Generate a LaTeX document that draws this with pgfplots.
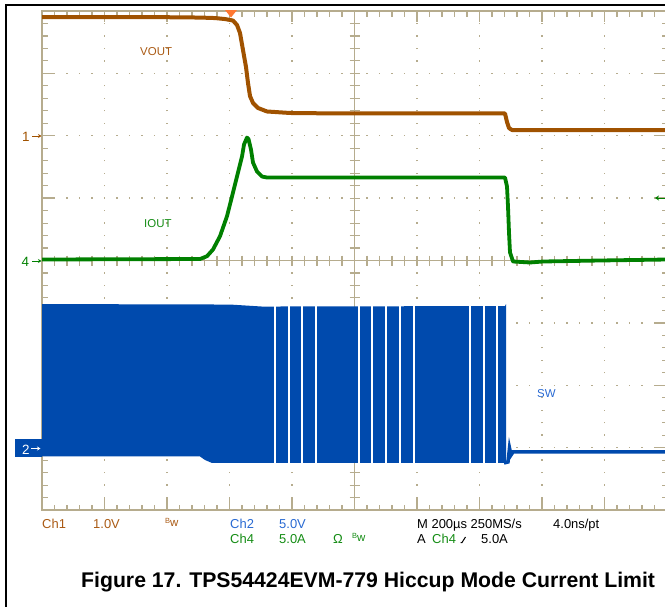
\documentclass[border=0pt]{standalone}
\usepackage{pgfplots}
\pgfplotsset{compat=1.18}
\usepackage{fontspec}
\setmainfont{Liberation Sans}
\usetikzlibrary{arrows.meta}
\definecolor{grat}{RGB}{182,172,142}
\definecolor{vbrown}{RGB}{160,82,0}
\definecolor{igreen}{RGB}{0,128,0}
\definecolor{swblue}{RGB}{0,74,173}
\definecolor{trig}{RGB}{255,120,50}
\definecolor{tblue}{RGB}{40,105,210}
\definecolor{tgreen}{RGB}{20,140,20}
\definecolor{tbrown}{RGB}{170,90,20}
\newcommand\fs[1]{\fontsize{#1}{#1}\selectfont}
\begin{document}
\begin{tikzpicture}
% ---------- frame and graticule (pixel coordinates, y downwards)
\begin{scope}[x=1bp,y=-1bp]
\draw[black,line width=1.1bp] (6,620)--(6,5)--(680,5);
\foreach \k in {1,2,3,4,6,7,8,9}
  \draw[grat,line width=1.3bp,dash pattern=on 1.3bp off 11.175bp,dash phase=0.65bp] ({42+62.5*\k},510)--({42+62.5*\k},11);
\foreach \k in {1,2,3,5,6,7}
  \draw[grat,line width=1.3bp,dash pattern=on 1.3bp off 11.2bp,dash phase=0.65bp] (42,{11+62.375*\k})--(667,{11+62.375*\k});
\draw[grat,line width=1.3bp] (354.5,11)--(354.5,510);
\draw[grat,line width=1.3bp] (42,260.5)--(667,260.5);
\foreach \k in {1,...,39} {
  \draw[grat,line width=1.1bp] (349.5,{11+12.475*\k})--(359.5,{11+12.475*\k});
  \draw[grat,line width=1.1bp] (42,{11+12.475*\k})--(47.5,{11+12.475*\k});
  \draw[grat,line width=1.1bp] (667,{11+12.475*\k})--(661.5,{11+12.475*\k});
}
\foreach \k in {1,...,49} {
  \draw[grat,line width=1.1bp] ({42+12.5*\k},255.5)--({42+12.5*\k},265.5);
  \draw[grat,line width=1.1bp] ({42+12.5*\k},11)--({42+12.5*\k},16.5);
  \draw[grat,line width=1.1bp] ({42+12.5*\k},510)--({42+12.5*\k},504.5);
}
\foreach \k in {1,...,9} {
  \draw[grat,line width=1.3bp] ({42+62.5*\k},11)--({42+62.5*\k},22);
  \draw[grat,line width=1.3bp] ({42+62.5*\k},510)--({42+62.5*\k},498);
}
\foreach \k in {1,...,7} {
  \draw[grat,line width=1.3bp] (42,{11+62.375*\k})--(54,{11+62.375*\k});
  \draw[grat,line width=1.3bp] (667,{11+62.375*\k})--(655,{11+62.375*\k});
}
\draw[grat,line width=1.4bp] (42,11) rectangle (667,510);
\end{scope}
% ---------- the traces (x in microseconds, 200 us/div; y in volts / amps)
\begin{axis}[at={(42bp,-510bp)}, anchor=south west, scale only axis,
  width=625bp, height=499bp, xmin=0, xmax=2000, ymin=-4, ymax=4, hide axis]
% SW (Ch2, 5 V/div): switching band
\addplot[draw=none, fill=swblue, y filter/.expression={y/5-3.022}] coordinates {
 (0,11.62) (601.6,11.58) (704,11.42) (1481.6,11.46) (1484.8,11.62)
 (1484.8,-1.12) (544,-1.12) (521.6,-0.88) (505.6,-0.60) (0,-0.60)};
% missing pulses
\addplot[white, line width=1.7bp, unbounded coords=jump, y filter/.expression={y/5-3.022}] coordinates {
 (745.6,11.5) (745.6,-1.2) (745.6,nan)
 (790.4,11.5) (790.4,-1.2) (790.4,nan)
 (832,11.5) (832,-1.2) (832,nan)
 (876.8,11.5) (876.8,-1.2) (876.8,nan)
 (1014.4,11.5) (1014.4,-1.2) (1014.4,nan)
 (1056,11.5) (1056,-1.2) (1056,nan)
 (1100.8,11.5) (1100.8,-1.2) (1100.8,nan)
 (1145.6,11.5) (1145.6,-1.2) (1145.6,nan)
 (1190.4,11.5) (1190.4,-1.2) (1190.4,nan)
 (1369.6,11.5) (1369.6,-1.2) (1369.6,nan)
 (1414.4,11.5) (1414.4,-1.2) (1414.4,nan)
 (1456,11.5) (1456,-1.2)};
% SW after shutdown
\addplot[swblue, line width=3.5bp, y filter/.expression={y/5-3.022}] coordinates {
 (1478.4,-1.12) (1491.2,-1.04) (1496,0.08) (1500.8,-0.48) (1507.2,-0.24) (2000,-0.24)};
% IOUT (Ch4, 5 A/div)
\addplot[igreen, line width=3.8bp, line join=round, y filter/.expression={y/5}] coordinates {
 (0,0.08) (505.6,0.12) (528,0.345) (547.2,0.881) (569.6,1.947) (592,3.55)
 (611.2,5.449) (627.2,7.051) (640,8.333) (646.4,9.295) (656,9.856) (660.8,9.736)
 (668.8,8.894) (675.2,7.853) (688,7.131) (704,6.731) (720,6.651) (1481.6,6.651)
 (1488,5.929) (1491.2,4.327) (1494.4,2.244) (1497.6,0.641) (1507.2,-0.08)
 (1561.6,-0.16) (1603.2,-0.08) (1785.6,0) (2000,0.08)};
% VOUT (Ch1, 1 V/div)
\addplot[vbrown, line width=4bp, line join=round, y filter/.expression={y+1.996}] coordinates {
 (0,1.907) (345.6,1.907) (505.6,1.899) (553.6,1.891) (585.6,1.875) (611.2,1.851)
 (624,1.779) (633.6,1.651) (643.2,1.378) (652.8,1.106) (659.2,0.849) (665.6,0.641)
 (675.2,0.529) (691.2,0.449) (720,0.393) (793.6,0.369) (953.6,0.361) (1481.6,0.361)
 (1488,0.224) (1494.4,0.128) (1504,0.096) (2000,0.096)};
\end{axis}
% ---------- markers and texts
\begin{scope}[x=1bp,y=-1bp]
\fill[trig] (225,10)--(237,10)--(231,17.5)--cycle;
\node[anchor=base west,inner sep=0,text=tbrown,font=\fs{11.5}] at (140,55) {VOUT};
\node[anchor=base west,inner sep=0,text=tgreen,font=\fs{11.5}] at (144,227) {IOUT};
\node[anchor=base west,inner sep=0,text=tblue,font=\fs{11.5}] at (537,397) {SW};
\node[anchor=base west,inner sep=0,text=vbrown,font=\fs{13.5}] at (22,141) {1};
\draw[vbrown,line width=1bp,-{Stealth[length=3.5bp,width=4bp]}] (32,136)--(41.5,136);
\node[anchor=base west,inner sep=0,text=igreen,font=\fs{13.5}] at (21.5,266) {4};
\draw[igreen,line width=1bp,-{Stealth[length=3.5bp,width=4bp]}] (32,261)--(41.5,261);
\fill[swblue] (15,439) rectangle (42,456.5);
\node[anchor=base west,inner sep=0,text=white,font=\fs{13.5}] at (22,454) {2};
\draw[white,line width=1bp,-{Stealth[length=3.5bp,width=4bp]}] (31,448.5)--(40.5,448.5);
\draw[igreen,line width=1bp,-{Stealth[length=4bp,width=5bp]}] (668,198)--(655,198);
% settings rows
\node[anchor=base west,inner sep=0,text=tbrown,font=\fs{13}] at (42,528) {Ch1};
\node[anchor=base west,inner sep=0,text=tbrown,font=\fs{13}] at (93,528) {1.0V};
\node[anchor=base west,inner sep=0,text=tbrown] at (165,526) {\raisebox{3bp}{\fs{7.5}B}\fs{11.5}w};
\node[anchor=base west,inner sep=0,text=tblue,font=\fs{13}] at (230,528) {Ch2};
\node[anchor=base west,inner sep=0,text=tblue,font=\fs{13}] at (279,528) {5.0V};
\node[anchor=base west,inner sep=0,text=black,font=\fs{13}] at (417,528) {M 200µs 250MS/s};
\node[anchor=base west,inner sep=0,text=black,font=\fs{13}] at (553,528) {4.0ns/pt};
\node[anchor=base west,inner sep=0,text=tgreen,font=\fs{13}] at (230,543) {Ch4};
\node[anchor=base west,inner sep=0,text=tgreen,font=\fs{13}] at (279,543) {5.0A};
\node[anchor=base west,inner sep=0,text=tgreen,font=\fs{13}] at (333,543) {Ω};
\node[anchor=base west,inner sep=0,text=tgreen] at (352,541) {\raisebox{3bp}{\fs{7.5}B}\fs{11.5}w};
\node[anchor=base west,inner sep=0,text=black,font=\fs{13}] at (417,543) {A};
\node[anchor=base west,inner sep=0,text=tgreen,font=\fs{13}] at (432,543) {Ch4};
\draw[black,line width=1bp] (460.5,542.5)--(462,542.5)--(465.5,537);
\node[anchor=base west,inner sep=0,text=black,font=\fs{13}] at (481,543) {5.0A};
% caption
\node[anchor=base west,inner sep=0,text=black,font=\fs{21.3}\bfseries] at (81,587) {Figure 17. TPS54424EVM-779 Hiccup Mode Current Limit};
\end{scope}
\pgfresetboundingbox
\path[use as bounding box] (0bp,0bp) rectangle (665bp,-607bp);
\end{tikzpicture}
\end{document}
